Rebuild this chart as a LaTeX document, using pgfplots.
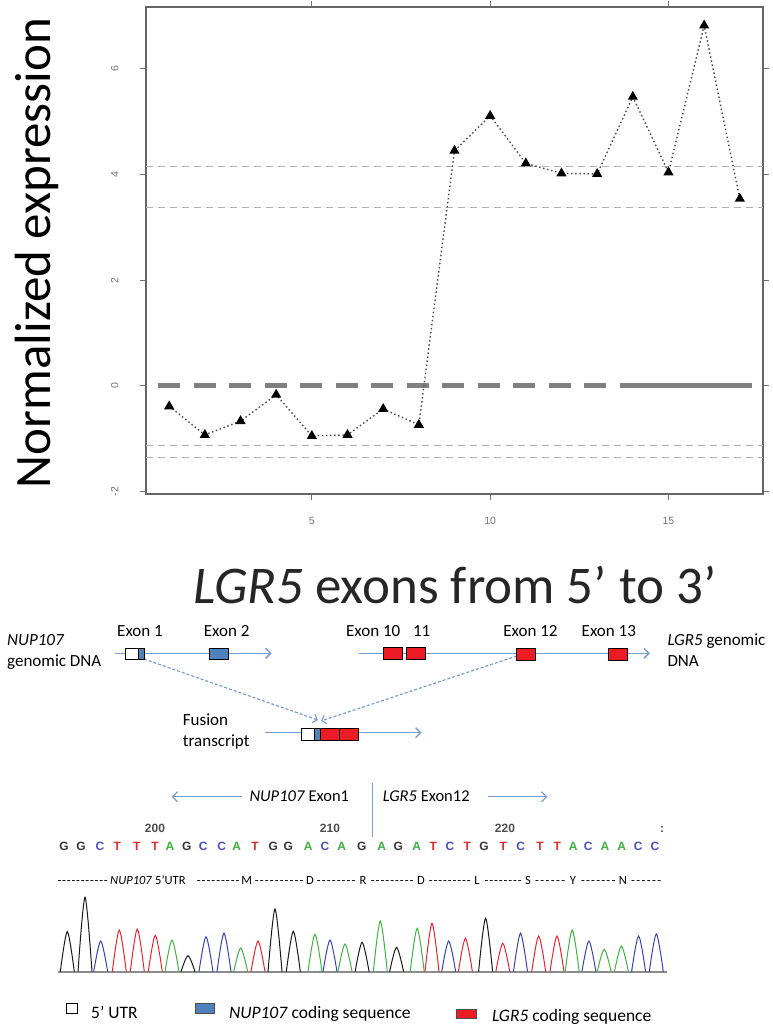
\documentclass[border=0pt]{standalone}
\usepackage{fontspec}
\setmainfont{Carlito}
\newfontfamily\seqfont{Liberation Sans}
\newfontfamily\tickfont{Liberation Sans}
\usepackage{pgfplots}
\pgfplotsset{compat=1.18}
\usetikzlibrary{arrows.meta}
\definecolor{lblue}{RGB}{120,158,210}
\definecolor{exblue}{RGB}{79,129,189}
\definecolor{exred}{RGB}{237,28,36}
\definecolor{cG}{RGB}{55,55,55}
\definecolor{cA}{RGB}{60,175,60}
\definecolor{cC}{RGB}{70,80,200}
\definecolor{cT}{RGB}{230,40,40}
\definecolor{pG}{RGB}{25,25,25}
\definecolor{pA}{RGB}{60,180,60}
\definecolor{pC}{RGB}{55,65,190}
\definecolor{pT}{RGB}{235,35,45}
\newcommand\amfont{\fontsize{12.5}{14}\selectfont}
\newcommand\dfill[2]{\pgfmathsetmacro\dw{#2-#1}\node[anchor=base west, inner sep=0pt, font=\amfont] at (#1,884) {\hbox to \dw pt{\xleaders\hbox to 4.6pt{\hss-\hss}\hfill}};}
\begin{document}
\begin{tikzpicture}
\useasboundingbox (0,0) rectangle (773pt,-1030pt);
% ---------------- main expression plot
\begin{axis}[
  at={(146pt,-494pt)}, anchor=south west,
  scale only axis, width=617pt, height=487pt,
  xmin=0.35, xmax=17.65, ymin=-2.05, ymax=7.17,
  axis line style={draw=black!60, line width=2.7pt},
  xtick={5,10,15}, ytick={-2,0,2,4,6},
  tick align=outside, major tick length=6pt,
  tick style={black!55, line width=1pt},
  /pgf/number format/assume math mode=true,
  tick label style={font=\tickfont\fontsize{10.5}{12}\selectfont, text=black!55},
  xticklabel style={yshift=-14pt},
  yticklabel style={xshift=-18pt, rotate=90, anchor=south},
  clip=false,
]
\addplot[black!30, line width=1.4pt, dash pattern=on 7pt off 5pt] coordinates {(0.35,4.15) (17.65,4.15)};
\addplot[black!30, line width=1.4pt, dash pattern=on 7pt off 5pt] coordinates {(0.35,3.37) (17.65,3.37)};
\addplot[black!30, line width=1.4pt, dash pattern=on 7pt off 5pt] coordinates {(0.35,-1.135) (17.65,-1.135)};
\addplot[black!30, line width=1.4pt, dash pattern=on 7pt off 5pt] coordinates {(0.35,-1.36) (17.65,-1.36)};
\addplot[black!50, line width=5pt, dash pattern=on 22pt off 13.5pt] coordinates {(0.687,0) (13.73,0)};
\addplot[black!50, line width=5pt] coordinates {(13.73,0) (17.34,0)};
\addplot[black!70, line width=1.4pt, dash pattern=on 1.5pt off 2.6pt,
  mark=triangle*, mark size=4.5pt, mark options={solid, fill=black, draw=black}] coordinates {
(1,-0.39)(2,-0.93)(3,-0.67)(4,-0.17)(5,-0.95)(6,-0.93)(7,-0.44)(8,-0.74)
(9,4.45)(10,5.11)(11,4.21)(12,4.02)(13,4.01)(14,5.47)(15,4.04)(16,6.82)(17,3.54)};
\end{axis}
% ---------------- chromatogram
\begin{axis}[
  at={(0pt,-971.7pt)}, anchor=south west,
  scale only axis, width=773pt, height=100pt,
  xmin=0, xmax=773, ymin=0, ymax=100, hide axis, clip=false,
]
\addplot[black!45, line width=2pt] coordinates {(58.3,0) (666.7,0)};
\addplot[pG, smooth, line width=1pt] coordinates {(60.3,0)(67.3,40)(74.3,0)};
\addplot[pG, smooth, line width=1pt] coordinates {(78,0)(85,74.4)(92,0)};
\addplot[pC, smooth, line width=1pt] coordinates {(93.7,0)(100.7,30.7)(107.7,0)};
\addplot[pT, smooth, line width=1pt] coordinates {(112.3,0)(119.3,41.7)(126.3,0)};
\addplot[pT, smooth, line width=1pt] coordinates {(130.3,0)(137.3,42.7)(144.3,0)};
\addplot[pT, smooth, line width=1pt] coordinates {(148.3,0)(155.3,36.4)(162.3,0)};
\addplot[pA, smooth, line width=1pt] coordinates {(165,0)(172,31.7)(179,0)};
\addplot[pG, smooth, line width=1pt] coordinates {(181,0)(188,16)(195,0)};
\addplot[pC, smooth, line width=1pt] coordinates {(199,0)(206,35)(213,0)};
\addplot[pC, smooth, line width=1pt] coordinates {(217,0)(224,38.4)(231,0)};
\addplot[pA, smooth, line width=1pt] coordinates {(233.7,0)(240.7,23.7)(247.7,0)};
\addplot[pT, smooth, line width=1pt] coordinates {(251,0)(258,30.7)(265,0)};
\addplot[pG, smooth, line width=1pt] coordinates {(268,0)(275,62.7)(282,0)};
\addplot[pG, smooth, line width=1pt] coordinates {(286.3,0)(293.3,40.4)(300.3,0)};
\addplot[pA, smooth, line width=1pt] coordinates {(308,0)(315,37.4)(322,0)};
\addplot[pC, smooth, line width=1pt] coordinates {(323,0)(330,31.7)(337,0)};
\addplot[pA, smooth, line width=1pt] coordinates {(338,0)(345,27.7)(352,0)};
\addplot[pG, smooth, line width=1pt] coordinates {(355.1,0)(362.1,29.4)(369.1,0)};
\addplot[pA, smooth, line width=1pt] coordinates {(373.3,0)(380.3,50.7)(387.3,0)};
\addplot[pG, smooth, line width=1pt] coordinates {(389.6,0)(396.6,24.4)(403.6,0)};
\addplot[pA, smooth, line width=1pt] coordinates {(410.2,0)(417.2,43.4)(424.2,0)};
\addplot[pT, smooth, line width=1pt] coordinates {(425,0)(432,48.4)(439,0)};
\addplot[pC, smooth, line width=1pt] coordinates {(441.7,0)(448.7,30.7)(455.7,0)};
\addplot[pT, smooth, line width=1pt] coordinates {(458.4,0)(465.4,33.4)(472.4,0)};
\addplot[pG, smooth, line width=1pt] coordinates {(478.6,0)(485.6,53.4)(492.6,0)};
\addplot[pT, smooth, line width=1pt] coordinates {(495.8,0)(502.8,28.4)(509.8,0)};
\addplot[pC, smooth, line width=1pt] coordinates {(513.5,0)(520.5,38.4)(527.5,0)};
\addplot[pT, smooth, line width=1pt] coordinates {(531.7,0)(538.7,35.7)(545.7,0)};
\addplot[pT, smooth, line width=1pt] coordinates {(550,0)(557,35.7)(564,0)};
\addplot[pA, smooth, line width=1pt] coordinates {(565.2,0)(572.2,41.7)(579.2,0)};
\addplot[pC, smooth, line width=1pt] coordinates {(581.9,0)(588.9,30.7)(595.9,0)};
\addplot[pA, smooth, line width=1pt] coordinates {(597.2,0)(604.2,22.4)(611.2,0)};
\addplot[pA, smooth, line width=1pt] coordinates {(614.4,0)(621.4,25.7)(628.4,0)};
\addplot[pC, smooth, line width=1pt] coordinates {(631.6,0)(638.6,35.7)(645.6,0)};
\addplot[pC, smooth, line width=1pt] coordinates {(649.3,0)(656.3,37.7)(663.3,0)};
\end{axis}
% ---------------- diagram, in pixel coordinates
\begin{scope}[x=1pt, y=-1pt]
\node[rotate=90, anchor=base, font=\fontsize{51}{60}\selectfont] at (50,253) {Normalized expression};
\node[anchor=base, font=\fontsize{53}{60}\selectfont, text=black!85] at (455,603.3) {\textit{LGR5} exons from 5’ to 3’};
% genomic lines
\draw[lblue, line width=1.5pt, -{Straight Barb[length=5pt,width=10pt]}] (115,653.3) -- (271.7,653.3);
\draw[lblue, line width=1.5pt, -{Straight Barb[length=5pt,width=10pt]}] (359.3,653.3) -- (650,653.3);
\draw[lblue, line width=1.5pt, -{Straight Barb[length=5pt,width=10pt]}] (265,732.7) -- (421.7,732.7);
\draw[lblue, line width=1.2pt, dash pattern=on 3pt off 2pt, -{Straight Barb[length=4pt,width=9pt]}] (144,659) -- (318,720);
\draw[lblue, line width=1.2pt, dash pattern=on 3pt off 2pt, -{Straight Barb[length=4pt,width=9pt]}] (516.7,656) -- (321,721);
\begin{scope}[draw=black, line width=0.8pt]
\filldraw[fill=white] (125.3,648.3) rectangle (138.3,659);
\filldraw[fill=exblue] (138.3,648.3) rectangle (144,659);
\filldraw[fill=exblue] (209.3,648.3) rectangle (228.7,659);
\filldraw[fill=exred] (383.3,647.7) rectangle (402.7,659.3);
\filldraw[fill=exred] (406.7,647.7) rectangle (425,659.3);
\filldraw[fill=exred] (516.7,648.3) rectangle (535.7,660);
\filldraw[fill=exred] (608.3,648.3) rectangle (627.7,660);
\filldraw[fill=white] (301,728.3) rectangle (314.3,740);
\filldraw[fill=exblue] (314.3,728.3) rectangle (320,740);
\filldraw[fill=exred] (320,728.3) rectangle (339.3,740);
\filldraw[fill=exred] (339.3,728.3) rectangle (358.3,740);
\end{scope}
\begin{scope}[font=\fontsize{17}{20}\selectfont, inner sep=0pt]
\node[anchor=base] at (140,636) {Exon 1};
\node[anchor=base] at (226.7,636) {Exon 2};
\node[anchor=base] at (373.2,636) {Exon 10};
\node[anchor=base] at (421.7,636) {11};
\node[anchor=base] at (530.5,636) {Exon 12};
\node[anchor=base] at (608.8,636) {Exon 13};
\node[anchor=base west] at (7,645.7) {\textit{NUP107}};
\node[anchor=base west] at (7,666.7) {genomic DNA};
\node[anchor=base west] at (667.3,645) {\textit{LGR5} genomic};
\node[anchor=base west] at (667.3,666.7) {DNA};
\node[anchor=base west] at (182.7,725.7) {Fusion};
\node[anchor=base west] at (182.7,746) {transcript};
\end{scope}
% sequence header
\draw[lblue, line width=1.2pt, -{Straight Barb[length=5pt,width=10pt]}] (241.7,796.7) -- (171.7,796.7);
\draw[lblue, line width=1.2pt, -{Straight Barb[length=5pt,width=10pt]}] (488.3,796.7) -- (547.3,796.7);
\draw[lblue, line width=1.5pt] (372.7,783) -- (372.7,837.3);
\begin{scope}[font=\fontsize{16.5}{19}\selectfont, inner sep=0pt]
\node[anchor=base west] at (249.3,801.7) {\textit{NUP107} Exon1};
\node[anchor=base west] at (382.7,801.7) {\textit{LGR5} Exon12};
\end{scope}
\begin{scope}[font=\seqfont\bfseries\fontsize{12}{14}\selectfont, inner sep=0pt]
\node[anchor=base, text=black!70] at (155,832) {200};
\node[anchor=base, text=black!70] at (330,832) {210};
\node[anchor=base, text=black!70] at (505,832) {220};
\node[anchor=base, text=black!70] at (662,832) {:};
\foreach \x/\l/\c in {64/G/cG, 81/G/cG, 100/C/cC, 117.3/T/cT, 136.7/T/cT, 155/T/cT,
  170/A/cA, 186.7/G/cG, 203.3/C/cC, 221.7/C/cC, 236.7/A/cA, 255/T/cT, 273.3/G/cG,
  288.3/G/cG, 308.3/A/cA, 325/C/cC, 341.7/A/cA, 361.7/G/cG, 381.7/A/cA, 398.3/G/cG,
  416.7/A/cA, 433.3/T/cT, 450/C/cC, 467.3/T/cT, 484/G/cG, 503.3/T/cT, 520.7/C/cC,
  540/T/cT, 557.3/T/cT, 573.3/A/cA, 588.3/C/cC, 605/A/cA, 621.7/A/cA, 638.3/C/cC, 655/C/cC}
  {\node[anchor=base, text=\c] at (\x,850) {\l};}
\end{scope}
% amino acid row
\dfill{57}{108}
\begin{scope}[font=\amfont, inner sep=0pt]
\node[anchor=base west] at (110,884) {\textit{NUP107}};
\node[anchor=base west] at (155,884) {5’UTR};
\node[anchor=base] at (246.7,884) {M};
\node[anchor=base] at (310,884) {D};
\node[anchor=base] at (363,884) {R};
\node[anchor=base] at (421,884) {D};
\node[anchor=base] at (477,884) {L};
\node[anchor=base] at (528,884) {S};
\node[anchor=base] at (573,884) {Y};
\node[anchor=base] at (623,884) {N};
\end{scope}
\dfill{196}{240}
\dfill{254}{304}
\dfill{316}{356}
\dfill{370}{414}
\dfill{428}{471}
\dfill{484}{522}
\dfill{534}{566}
\dfill{580}{616}
\dfill{630}{662}
% legend
\filldraw[fill=white, draw=black, line width=0.8pt] (66.4,1003.5) rectangle (77.4,1013);
\filldraw[fill=exblue, draw=black!70, line width=0.8pt] (195.8,1003.5) rectangle (214,1013.5);
\filldraw[fill=exred, draw=black!70, line width=0.8pt] (456.6,1009.5) rectangle (476.3,1018.3);
\begin{scope}[font=\fontsize{17.5}{20}\selectfont, inner sep=0pt]
\node[anchor=base west] at (91,1018) {5’ UTR};
\node[anchor=base west] at (228.8,1018) {\textit{NUP107} coding sequence};
\node[anchor=base west] at (492,1021) {\textit{LGR5} coding sequence};
\end{scope}
\end{scope}
\end{tikzpicture}
\end{document}
